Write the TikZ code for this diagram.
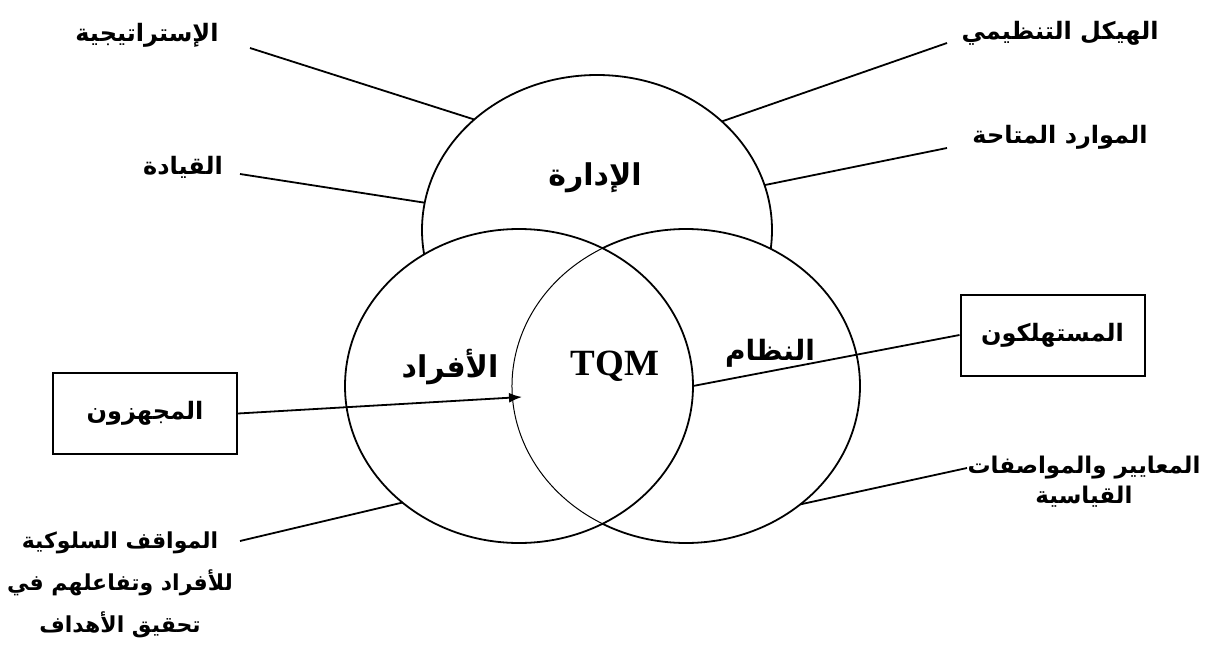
\documentclass[tikz,border=0pt]{standalone}
\usepackage{fontspec}
\setmainfont{Liberation Serif}
\newfontfamily\arabicfont[Script=Arabic]{DejaVu Sans}
\TeXXeTstate=1
\usetikzlibrary{shapes.geometric,arrows.meta}
\begin{document}
\begin{tikzpicture}[x=1pt,y=-1pt,
  blob/.style={ellipse,draw,line width=1.8pt,fill=white,inner sep=0pt,outer sep=0pt},
  outl/.style={font={\arabicfont\bfseries\fontsize{24}{42}\selectfont},inner sep=0pt,align=center},
  inl/.style={font={\arabicfont\bfseries\fontsize{30}{34}\selectfont},inner sep=0pt},
  boxn/.style={draw,line width=2pt,minimum width=184pt,minimum height=81pt,inner sep=0pt,
               font={\arabicfont\bfseries\fontsize{24}{28}\selectfont}},
  conn/.style={line width=1.8pt}]
\useasboundingbox (0,0) rectangle (1205,650);
% shapes
\node[blob,minimum width=350pt,minimum height=310pt] (mg) at (597,230) {};
\node[blob,minimum width=348pt,minimum height=314pt] (rc) at (686,386) {};
\node[blob,minimum width=348pt,minimum height=314pt] (lc) at (519,386) {};
\draw[line width=1pt] (rc.center) ++(118.5:174pt and 157pt)
  arc[start angle=118.5,end angle=241.5,x radius=174pt,y radius=157pt];
% inner labels
\node[inl] (tmg) at (595,178) {\beginR الإدارة\endR};
\node[inl] (tlc) at (450,367) {\beginR الأفراد\endR};
\node[inl,font={\arabicfont\bfseries\fontsize{28}{32}\selectfont}] (trc) at (770,353) {\beginR النظام\endR};
\node[font=\bfseries\fontsize{37}{40}\selectfont,inner sep=0pt] (tqm) at (615,366) {TQM};
% outer labels
\node[outl] (strat) at (147,35) {\beginR الإستراتيجية\endR};
\node[outl] (lead) at (183,167) {\beginR القيادة\endR};
\node[outl] (struct) at (1060,33) {\beginR الهيكل التنظيمي\endR};
\node[outl] (res) at (1060,137) {\beginR الموارد المتاحة\endR};
\node[outl,font={\arabicfont\bfseries\fontsize{23}{30}\selectfont}] (std) at (1084,482)
  {\beginR المعايير والمواصفات\endR\\\beginR القياسية\endR};
\node[outl,font={\arabicfont\bfseries\fontsize{22}{42}\selectfont}] (beh) at (120,585)
  {\beginR المواقف السلوكية\endR\\\beginR للأفراد وتفاعلهم في\endR\\\beginR تحقيق الأهداف\endR};
\node[boxn] (sup) at (145,413.5) {\beginR المجهزون\endR};
\node[boxn] (cons) at (1052.5,335) {\beginR المستهلكون\endR};
% connector ends
\coordinate (cStrat) at (250,48);
\coordinate (cLead) at (240,174);
\coordinate (cStruct) at (947,43);
\coordinate (cRes) at (947,148);
\coordinate (cStd) at (967,468);
\coordinate (cBeh) at (240,541);
\coordinate (tip) at (522,397);
% connectors
\draw[conn] (cStrat) -- (mg.138.4);
\draw[conn] (cLead) -- (mg.171);
\draw[conn] (cStruct) -- (mg.41.3);
\draw[conn] (cRes) -- (mg.15.6);
\draw[conn] (cStd) -- (rc.314.3);
\draw[conn] (cBeh) -- (lc.225.7);
\draw[conn] (cons.west) -- (lc.east);
\draw[conn,-{Latex[length=13pt,width=10pt]}] (sup.east) -- (tip);
\end{tikzpicture}
\end{document}
